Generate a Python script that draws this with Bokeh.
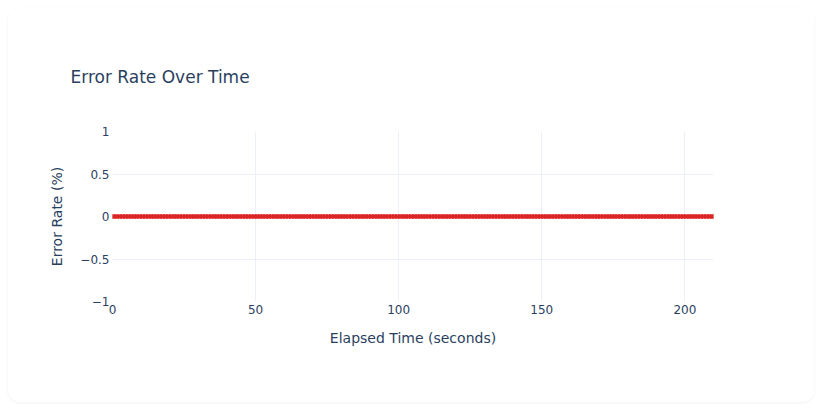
from bokeh.plotting import figure
from bokeh.embed import file_html
from bokeh.resources import INLINE
from bokeh.models import Range1d, FixedTicker

elapsed_seconds = [
    0, 1, 2, 3, 4, 5, 6, 7, 8, 9, 10, 11, 12, 13, 14, 15, 16, 17, 18, 19,
    20, 21, 22, 23, 24, 25, 26, 27, 28, 29, 30, 31, 32, 33, 34, 35, 36, 37, 38, 39,
    40, 41, 42, 43, 44, 45, 46, 47, 48, 49, 50, 51, 52, 53, 54, 55, 56, 57, 58, 59,
    60, 61, 62, 63, 64, 65, 66, 67, 68, 69, 70, 71, 72, 73, 74, 75, 76, 77, 78, 79,
    80, 81, 82, 83, 84, 85, 86, 87, 88, 89, 90, 91, 92, 93, 94, 95, 96, 97, 98, 99,
    100, 101, 102, 103, 104, 105, 106, 107, 108, 109, 110, 111, 112, 113, 114, 115, 116, 117, 118, 119,
    120, 121, 122, 123, 124, 125, 126, 127, 128, 129, 130, 131, 132, 133, 134, 135, 136, 137, 138, 139,
    140, 141, 142, 143, 144, 145, 146, 147, 148, 149, 150, 151, 152, 153, 154, 155, 156, 157, 158, 159,
    160, 161, 162, 163, 164, 165, 166, 167, 168, 169, 170, 171, 172, 173, 174, 175, 176, 177, 178, 179,
    180, 181, 182, 183, 184, 185, 186, 187, 188, 189, 190, 191, 192, 193, 194, 195, 196, 197, 198, 199,
    200, 201, 202, 203, 204, 205, 206, 207, 208, 209, 210,
]
error_rate = [
    0, 0, 0, 0, 0, 0, 0, 0, 0, 0, 0, 0, 0, 0, 0, 0, 0, 0, 0, 0,
    0, 0, 0, 0, 0, 0, 0, 0, 0, 0, 0, 0, 0, 0, 0, 0, 0, 0, 0, 0,
    0, 0, 0, 0, 0, 0, 0, 0, 0, 0, 0, 0, 0, 0, 0, 0, 0, 0, 0, 0,
    0, 0, 0, 0, 0, 0, 0, 0, 0, 0, 0, 0, 0, 0, 0, 0, 0, 0, 0, 0,
    0, 0, 0, 0, 0, 0, 0, 0, 0, 0, 0, 0, 0, 0, 0, 0, 0, 0, 0, 0,
    0, 0, 0, 0, 0, 0, 0, 0, 0, 0, 0, 0, 0, 0, 0, 0, 0, 0, 0, 0,
    0, 0, 0, 0, 0, 0, 0, 0, 0, 0, 0, 0, 0, 0, 0, 0, 0, 0, 0, 0,
    0, 0, 0, 0, 0, 0, 0, 0, 0, 0, 0, 0, 0, 0, 0, 0, 0, 0, 0, 0,
    0, 0, 0, 0, 0, 0, 0, 0, 0, 0, 0, 0, 0, 0, 0, 0, 0, 0, 0, 0,
    0, 0, 0, 0, 0, 0, 0, 0, 0, 0, 0, 0, 0, 0, 0, 0, 0, 0, 0, 0,
    0, 0, 0, 0, 0, 0, 0, 0, 0, 0, 0,
]
x_ticks = [0, 50, 100, 150, 200]
y_ticks = [-1, -0.5, 0, 0.5, 1]
y_tick_labels = {-1: "\u22121", -0.5: "\u22120.5", 0: "0", 0.5: "0.5", 1: "1"}

FONT = "DejaVu Sans"
TEXT = "#2a3f5f"
GRID = "#ebf0f8"
RED = "#dc2626"

p = figure(
    width=806, height=394,
    output_backend="svg", toolbar_location=None,
    x_range=Range1d(0, 210), y_range=Range1d(-1, 1),
    min_border_left=104, min_border_right=101,
    min_border_top=123, min_border_bottom=101,
    title="Error Rate Over Time",
)
p.styles = {"border-radius": "12px", "overflow": "hidden", "margin": "8px",
            "box-shadow": "0 1px 3px rgba(0,0,0,0.06)"}
p.background_fill_color = "white"
p.border_fill_color = "white"
p.outline_line_color = None

p.title.text_font = FONT
p.title.text_font_size = "17px"
p.title.text_font_style = "normal"
p.title.text_color = TEXT
p.title.align = "left"
p.title.offset = -42
p.title.standoff = 90

p.xaxis.ticker = FixedTicker(ticks=x_ticks)
p.yaxis.ticker = FixedTicker(ticks=y_ticks)
p.yaxis.major_label_overrides = y_tick_labels

for ax in (p.xaxis[0], p.yaxis[0]):
    ax.axis_line_color = None
    ax.major_tick_line_color = None
    ax.minor_tick_line_color = None
    ax.major_label_text_font = FONT
    ax.major_label_text_font_size = "12px"
    ax.major_label_text_color = TEXT
    ax.axis_label_text_font = FONT
    ax.axis_label_text_font_size = "14px"
    ax.axis_label_text_font_style = "normal"
    ax.axis_label_text_color = TEXT

p.xaxis.axis_label = "Elapsed Time (seconds)"
p.yaxis.axis_label = "Error Rate (%)"
p.xaxis.major_label_standoff = -3
p.yaxis.major_label_standoff = -3
p.xaxis.axis_label_standoff = 13
p.yaxis.axis_label_standoff = 12

p.xgrid.grid_line_color = GRID
p.ygrid.grid_line_color = GRID
p.xgrid.grid_line_width = 1
p.ygrid.grid_line_width = 1

p.line(elapsed_seconds, error_rate, line_color=RED, line_width=3)
p.scatter(elapsed_seconds, error_rate, size=4, fill_color=RED, line_color=RED)

html = file_html(p, INLINE)
html = html.replace("<body>", '<body style="background:#f4f5f7;">', 1)
open("out.html", "w").write(html)
